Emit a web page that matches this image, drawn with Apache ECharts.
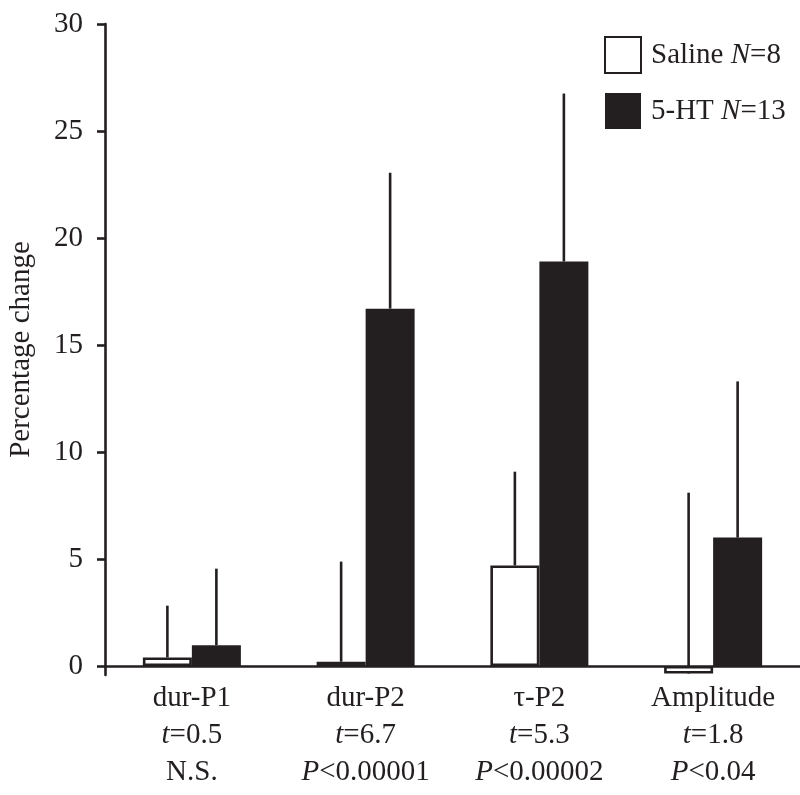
<!DOCTYPE html>
<html>
<head>
<meta charset="utf-8">
<script src="https://cdn.jsdelivr.net/npm/echarts@6/dist/echarts.min.js"></script>
<style>html,body{margin:0;padding:0;background:#fff}#c{width:800px;height:795px}</style>
</head>
<body>
<div id="c"></div>
<script>
const categories = ['dur-P1', 'dur-P2', 'τ-P2', 'Amplitude'];
const tStats = ['0.5', '6.7', '5.3', '1.8'];
const pStats = ['N.S.', 'P<0.00001', 'P<0.00002', 'P<0.04'];
const salineMean = [0.4, 0.2, 4.7, -0.35];
const salineErr = [2.42, 4.68, 4.38, 8.45];
const htMean = [0.97, 16.7, 18.9, 6.0];
const htErr = [3.58, 6.35, 7.85, 7.3];
const yTicks = [0, 5, 10, 15, 20, 25, 30];
const seriesNames = ['Saline N=8', '5-HT N=13'];

const INK = '#231f20';
const FONT = '"Liberation Serif", "Times New Roman", serif';
const FS = 29;
const BAR_W = 49;

function errSeries(means, errs, side) {
  return {
    type: 'custom',
    z: 1,
    silent: true,
    data: means.map((m, i) => [i, m, m + errs[i]]),
    renderItem: function (params, api) {
      const lo = api.coord([api.value(0), api.value(1)]);
      const hi = api.coord([api.value(0), api.value(2)]);
      const dx = side * BAR_W / 2;
      return {
        type: 'line',
        shape: { x1: lo[0] + dx, y1: lo[1], x2: hi[0] + dx, y2: hi[1] },
        style: { stroke: INK, lineWidth: 2.6 }
      };
    }
  };
}

const chart = echarts.init(document.getElementById('c'));
chart.setOption({
  animation: false,
  backgroundColor: '#fff',
  textStyle: { fontFamily: FONT, color: INK },
  grid: { left: 105, right: 0, top: 24, bottom: 120, containLabel: false, outerBoundsMode: 'none' },
  legend: {
    data: seriesNames,
    orient: 'vertical',
    left: 599,
    top: 31,
    itemWidth: 36,
    itemHeight: 36,
    itemGap: 19,
    icon: 'rect',
    textStyle: {
      fontFamily: FONT, fontSize: FS, color: INK, padding: [0, 0, 0, 5],
      rich: { i: { fontFamily: FONT, fontSize: FS, fontStyle: 'italic', color: INK } }
    },
    formatter: function (name) {
      return name.replace('N=', '{i|N}=');
    }
  },
  xAxis: {
    type: 'category',
    data: categories,
    axisLine: { onZero: true, lineStyle: { color: INK, width: 2.6 } },
    axisTick: { show: false },
    axisLabel: {
      interval: 0,
      margin: 5,
      fontFamily: FONT,
      fontSize: FS,
      color: INK,
      lineHeight: 37,
      formatter: function (value, index) {
        const p = pStats[index].replace(/^P/, '{i|P}');
        return value + '\n{i|t}=' + tStats[index] + '\n' + p;
      },
      rich: { i: { fontFamily: FONT, fontSize: FS, fontStyle: 'italic', color: INK, lineHeight: 37 } }
    },
    splitLine: { show: false }
  },
  yAxis: {
    type: 'value',
    min: -0.42,
    max: 30,
    name: 'Percentage change',
    nameLocation: 'middle',
    nameRotate: 90,
    nameGap: 69,
    nameTextStyle: { fontFamily: FONT, fontSize: FS, color: INK },
    axisLine: { show: true, onZero: false, lineStyle: { color: INK, width: 2.6 } },
    axisTick: { show: true, length: 8, customValues: yTicks, lineStyle: { color: INK, width: 2.6 } },
    axisLabel: { customValues: yTicks, margin: 22, fontFamily: FONT, fontSize: FS, color: INK },
    splitLine: { show: false }
  },
  series: [
    {
      name: seriesNames[0],
      type: 'bar',
      z: 3,
      barWidth: BAR_W,
      barGap: '0%',
      data: salineMean,
      itemStyle: { color: '#fff', borderColor: INK, borderWidth: 2.6 }
    },
    {
      name: seriesNames[1],
      type: 'bar',
      z: 3,
      barWidth: BAR_W,
      barGap: '0%',
      data: htMean,
      itemStyle: { color: INK, borderColor: INK, borderWidth: 0 }
    },
    errSeries(salineMean, salineErr, -1),
    errSeries(htMean, htErr, 1)
  ]
});
</script>
</body>
</html>
